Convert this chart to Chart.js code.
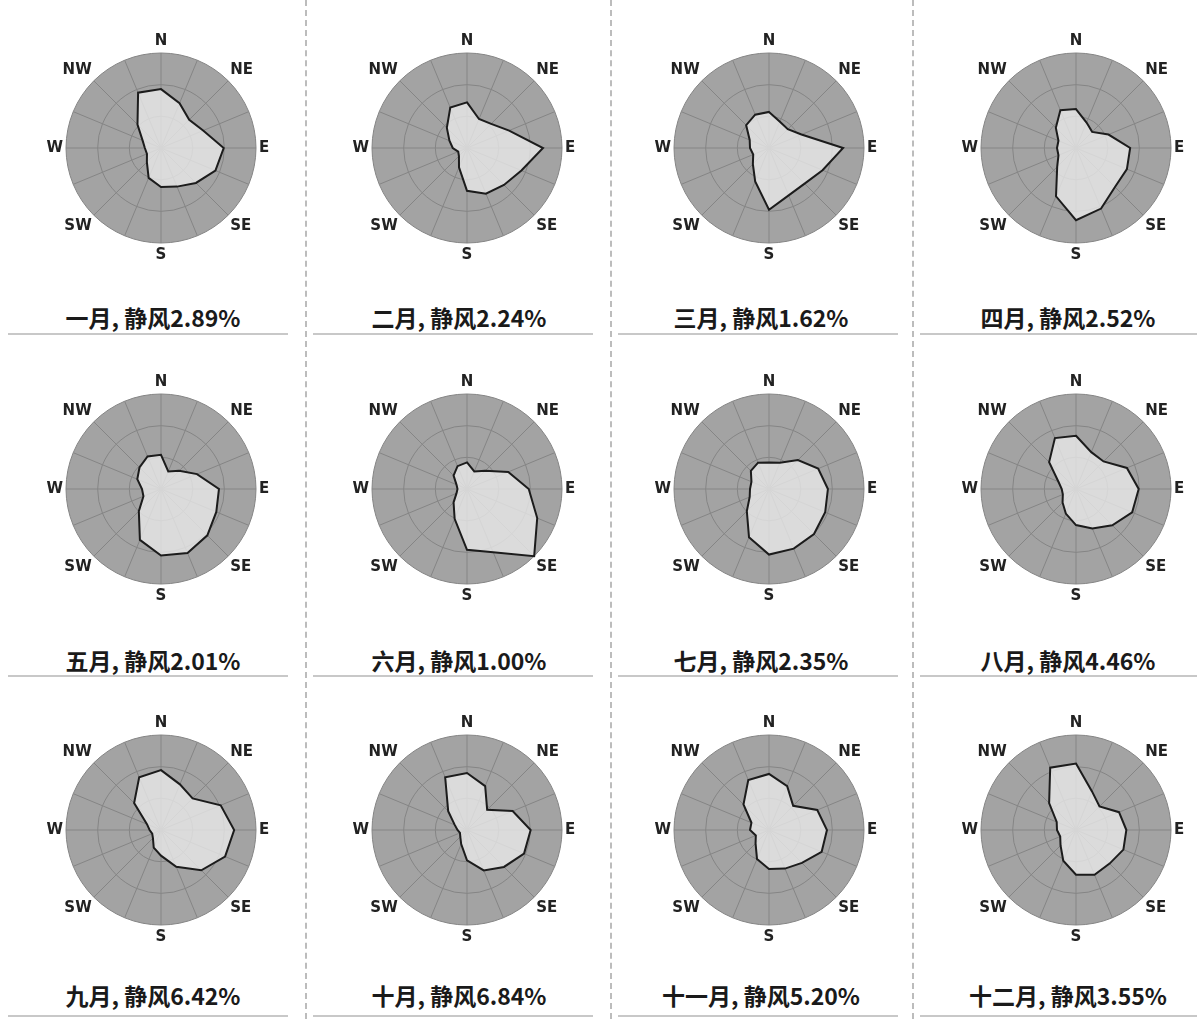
<!DOCTYPE html>
<html>
<head>
<meta charset="utf-8">
<script src="https://cdn.jsdelivr.net/npm/chart.js@4.4.0/dist/chart.umd.min.js"></script>
<style>
  body { margin: 0; background: #fff; width: 1197px; height: 1019px; position: relative; overflow: hidden; }
  .cell { position: absolute; width: 232px; height: 232px; }
  .cap { position: absolute; width: 300px; text-align: center; font-family: "Noto Sans CJK SC", sans-serif;
         font-weight: bold; font-size: 23px; line-height: 30px; color: #1a1a1a; }
  .vline { position: absolute; top: 0; height: 1019px; border-left: 2px dashed #bcbcbc; }
  .hline { position: absolute; height: 0; border-top: 2px solid #c8c8c8; }
</style>
</head>
<body>
<script>
// 16 wind directions, clockwise from north (only the 8 main ones are labelled)
const dirLabels = ['N', '', 'NE', '', 'E', '', 'SE', '', 'S', '', 'SW', '', 'W', '', 'NW', ''];

const monthNames = ['一月', '二月', '三月', '四月', '五月', '六月',
                    '七月', '八月', '九月', '十月', '十一月', '十二月'];
const calmPct = ['2.89', '2.24', '1.62', '2.52', '2.01', '1.00',
                 '2.35', '4.46', '6.42', '6.84', '5.20', '3.55'];

// wind direction frequency (%), N NNE NE ENE E ESE SE SSE S SSW SW WSW W WNW NW NNW
const jan = [12.4, 10.2, 8.4, 9.6, 13.2, 12.4, 10.4, 8.8, 8.2, 6.8, 4.2, 3.2, 3.4, 4.2, 7.0, 12.6];
const feb = [9.6, 6.6, 7.2, 9.6, 16.0, 12.4, 11.0, 10.4, 9.0, 4.4, 2.4, 2.0, 3.0, 4.0, 6.0, 9.2];
const mar = [7.6, 6.0, 5.6, 7.4, 15.6, 12.2, 10.6, 10.8, 13.0, 7.6, 4.8, 3.6, 4.0, 4.4, 6.8, 7.6];
const apr = [8.2, 5.8, 4.8, 7.4, 11.4, 11.6, 11.6, 13.8, 15.2, 11.0, 5.6, 4.0, 4.0, 4.0, 6.0, 8.6];
const may = [7.2, 4.0, 5.4, 8.2, 12.2, 12.6, 13.8, 14.6, 14.0, 11.6, 6.6, 4.0, 4.0, 5.4, 6.4, 7.4];
const jun = [5.6, 4.0, 5.4, 9.4, 13.0, 16.0, 20.0, 14.4, 12.8, 6.8, 4.0, 2.4, 2.0, 2.4, 4.0, 5.2];
const jul = [5.6, 6.0, 8.6, 11.2, 12.4, 12.8, 13.4, 13.6, 13.8, 11.0, 6.6, 4.4, 4.0, 4.0, 5.4, 6.0];
const aug = [11.2, 8.4, 8.2, 11.6, 13.2, 12.8, 10.8, 9.0, 7.6, 5.6, 4.0, 3.0, 3.0, 4.0, 8.0, 11.6];
const sep = [12.6, 10.4, 9.4, 13.6, 15.4, 14.6, 12.0, 8.4, 5.4, 4.0, 2.4, 2.0, 2.4, 3.2, 8.0, 12.0];
const oct = [12.0, 10.0, 6.0, 10.4, 13.4, 13.0, 11.0, 9.2, 6.4, 3.2, 2.0, 1.6, 2.0, 2.8, 5.6, 12.0];
const nov = [11.8, 10.0, 7.2, 11.0, 12.2, 12.0, 9.8, 8.8, 8.2, 6.6, 4.0, 3.0, 4.0, 4.0, 7.6, 11.4];
const dec = [14.0, 8.8, 7.0, 9.8, 10.6, 10.8, 10.0, 10.2, 9.4, 7.0, 4.6, 3.6, 4.0, 4.4, 8.0, 14.2];
const monthly = [jan, feb, mar, apr, may, jun, jul, aug, sep, oct, nov, dec];

const colCenters = [158, 464, 766, 1073];
const rowCenters = [148, 489, 830];
const captionY = [302, 645, 980];

// grey disc behind the rose grid
const discBackground = {
  id: 'discBackground',
  beforeDraw(chart) {
    const s = chart.scales.r;
    const c = chart.ctx;
    c.save();
    c.beginPath();
    c.arc(s.xCenter, s.yCenter, s.drawingArea, 0, Math.PI * 2);
    c.fillStyle = '#a3a3a3';
    c.fill();
    c.restore();
  }
};

// separators
[305, 610, 912].forEach(x => {
  const d = document.createElement('div');
  d.className = 'vline';
  d.style.left = x + 'px';
  document.body.appendChild(d);
});
[333, 675, 1015].forEach(y => {
  [0, 305, 610, 912].forEach(x => {
    const d = document.createElement('div');
    d.className = 'hline';
    d.style.left = (x + 8) + 'px';
    d.style.top = y + 'px';
    d.style.width = '280px';
    document.body.appendChild(d);
  });
});

monthly.forEach((vals, i) => {
  const cx = colCenters[i % 4];
  const cy = rowCenters[Math.floor(i / 4)];

  const box = document.createElement('div');
  box.className = 'cell';
  box.style.left = (cx - 116) + 'px';
  box.style.top = (cy - 116) + 'px';
  const cv = document.createElement('canvas');
  cv.width = 232;
  cv.height = 232;
  box.appendChild(cv);
  document.body.appendChild(box);

  const cap = document.createElement('div');
  cap.className = 'cap';
  cap.style.left = (cx - 155) + 'px';
  cap.style.top = captionY[Math.floor(i / 4)] + 'px';
  cap.textContent = monthNames[i] + ', 静风' + calmPct[i] + '%';
  document.body.appendChild(cap);

  new Chart(cv.getContext('2d'), {
    type: 'radar',
    data: {
      labels: dirLabels,
      datasets: [{
        data: vals,
        borderColor: '#1c1c1c',
        borderWidth: 2,
        backgroundColor: 'rgba(232,232,232,0.8)',
        fill: true,
        pointRadius: 0
      }]
    },
    options: {
      responsive: false,
      animation: false,
      plugins: { legend: { display: false }, tooltip: { enabled: false } },
      elements: { line: { tension: 0 } },
      scales: {
        r: {
          min: 0,
          max: 20,
          ticks: { display: false, count: 4 },
          grid: { circular: true, color: '#858585', lineWidth: 1 },
          angleLines: { color: '#858585', lineWidth: 1 },
          pointLabels: {
            color: '#222',
            padding: 3,
            font: { family: 'DejaVu Sans', weight: 'bold', size: 15 }
          }
        }
      }
    },
    plugins: [discBackground]
  });
});
</script>
</body>
</html>
